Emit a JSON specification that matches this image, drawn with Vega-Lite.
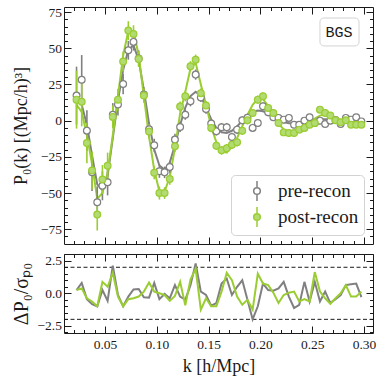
{
  "$schema": "https://vega.github.io/schema/vega-lite/v6.json",
  "padding": {"left": 10, "top": 4, "right": 7, "bottom": 0},
  "config": {
    "font": "Liberation Serif",
    "view": {"stroke": "#1a1a1a", "strokeWidth": 1},
    "axis": {"domain": false, "grid": false, "tickColor": "#1a1a1a", "tickWidth": 1, "labelFont": "Liberation Serif", "labelFontSize": 13.5, "labelColor": "#1a1a1a", "titleFont": "Liberation Serif", "titleFontWeight": "normal", "titleColor": "#1a1a1a", "labelFlush": false, "labelOverlap": false}
  },
  "resolve": {"legend": {"fill": "independent", "stroke": "independent"}, "scale": {"fill": "independent", "stroke": "independent"}},
  "datasets": {
    "pts": [
      {"k":0.0225,"s":"pre-recon","P":17.3,"e":20,"m":14,"r":0.25},
      {"k":0.0275,"s":"pre-recon","P":28.3,"e":17,"m":11,"r":0.8},
      {"k":0.0325,"s":"pre-recon","P":-6.9,"e":14,"m":-3,"r":-0.45},
      {"k":0.0375,"s":"pre-recon","P":-35.6,"e":13,"m":-24,"r":-0.83},
      {"k":0.0425,"s":"pre-recon","P":-56.4,"e":11,"m":-44,"r":-1.0},
      {"k":0.0475,"s":"pre-recon","P":-45,"e":10,"m":-48,"r":0.25},
      {"k":0.0525,"s":"pre-recon","P":-42.6,"e":9,"m":-38,"r":-0.58},
      {"k":0.0575,"s":"pre-recon","P":4.1,"e":8,"m":-12,"r":2.13},
      {"k":0.0625,"s":"pre-recon","P":11.1,"e":7.5,"m":14,"r":-0.13},
      {"k":0.0675,"s":"pre-recon","P":25.3,"e":7,"m":35,"r":-1.0},
      {"k":0.0725,"s":"pre-recon","P":48.6,"e":6.5,"m":49,"r":-0.25},
      {"k":0.0775,"s":"pre-recon","P":54.4,"e":6,"m":52,"r":0.3},
      {"k":0.0825,"s":"pre-recon","P":43,"e":5.5,"m":42,"r":0.33},
      {"k":0.0875,"s":"pre-recon","P":18,"e":5,"m":21,"r":-0.3},
      {"k":0.0925,"s":"pre-recon","P":-6,"e":5,"m":-2,"r":-0.33},
      {"k":0.0975,"s":"pre-recon","P":-17,"e":4.5,"m":-20,"r":0.8},
      {"k":0.1025,"s":"pre-recon","P":-35,"e":4.5,"m":-31,"r":-0.45},
      {"k":0.1075,"s":"pre-recon","P":-35.7,"e":4,"m":-34,"r":-0.05},
      {"k":0.1125,"s":"pre-recon","P":-32,"e":4,"m":-29,"r":-0.38},
      {"k":0.1175,"s":"pre-recon","P":-13.1,"e":4,"m":-17,"r":0.63},
      {"k":0.1225,"s":"pre-recon","P":-4.4,"e":3.5,"m":-3,"r":-0.25},
      {"k":0.1275,"s":"pre-recon","P":4.1,"e":3.5,"m":9,"r":-0.5},
      {"k":0.1325,"s":"pre-recon","P":13.4,"e":3.5,"m":17,"r":0.63},
      {"k":0.1375,"s":"pre-recon","P":31.8,"e":3.5,"m":20,"r":2.3},
      {"k":0.1425,"s":"pre-recon","P":16,"e":3.2,"m":17,"r":0.13},
      {"k":0.1475,"s":"pre-recon","P":8,"e":3.2,"m":9,"r":-0.13},
      {"k":0.1525,"s":"pre-recon","P":-2,"e":3,"m":1,"r":-0.95},
      {"k":0.1575,"s":"pre-recon","P":-7.3,"e":3,"m":-5,"r":-0.75},
      {"k":0.1625,"s":"pre-recon","P":-4.6,"e":3,"m":-8,"r":0.75},
      {"k":0.1675,"s":"pre-recon","P":-4.6,"e":3,"m":-8.5,"r":1.13},
      {"k":0.1725,"s":"pre-recon","P":-11.3,"e":3,"m":-7,"r":-0.13},
      {"k":0.1775,"s":"pre-recon","P":-6.2,"e":3,"m":-4,"r":0.5},
      {"k":0.1825,"s":"pre-recon","P":0.2,"e":2.8,"m":0,"r":1.0},
      {"k":0.1875,"s":"pre-recon","P":2,"e":2.8,"m":3.5,"r":-0.5},
      {"k":0.1925,"s":"pre-recon","P":-5,"e":2.8,"m":6,"r":-2.0},
      {"k":0.1975,"s":"pre-recon","P":-1.6,"e":2.8,"m":7,"r":-1.0},
      {"k":0.2025,"s":"pre-recon","P":9.9,"e":2.7,"m":6.5,"r":0.75},
      {"k":0.2075,"s":"pre-recon","P":5.8,"e":2.7,"m":5,"r":0.25},
      {"k":0.2125,"s":"pre-recon","P":2.3,"e":2.6,"m":2.5,"r":0.2},
      {"k":0.2175,"s":"pre-recon","P":1.9,"e":2.6,"m":0.5,"r":0.38},
      {"k":0.2225,"s":"pre-recon","P":0.7,"e":2.5,"m":-1,"r":0.88},
      {"k":0.2275,"s":"pre-recon","P":1.9,"e":2.5,"m":-1.8,"r":-0.25},
      {"k":0.2325,"s":"pre-recon","P":-2.8,"e":2.5,"m":-1.8,"r":-1.13},
      {"k":0.2375,"s":"pre-recon","P":-2.8,"e":2.5,"m":-1.2,"r":-0.88},
      {"k":0.2425,"s":"pre-recon","P":0,"e":2.4,"m":-0.5,"r":0.88},
      {"k":0.2475,"s":"pre-recon","P":2.3,"e":2.4,"m":0.3,"r":-0.63},
      {"k":0.2525,"s":"pre-recon","P":-1.6,"e":2.4,"m":0.8,"r":0.88},
      {"k":0.2575,"s":"pre-recon","P":0,"e":2.4,"m":1,"r":-0.63},
      {"k":0.2625,"s":"pre-recon","P":-2.3,"e":2.3,"m":0.9,"r":0.13},
      {"k":0.2675,"s":"pre-recon","P":0,"e":2.3,"m":0.6,"r":-0.75},
      {"k":0.2725,"s":"pre-recon","P":0.5,"e":2.3,"m":0.2,"r":-0.45},
      {"k":0.2775,"s":"pre-recon","P":-2.3,"e":2.3,"m":0,"r":-0.13},
      {"k":0.2825,"s":"pre-recon","P":1.9,"e":2.2,"m":-0.2,"r":0.63},
      {"k":0.2875,"s":"pre-recon","P":0.7,"e":2.2,"m":-0.2,"r":0.7},
      {"k":0.2925,"s":"pre-recon","P":2.3,"e":2.2,"m":-0.1,"r":0.75},
      {"k":0.2975,"s":"pre-recon","P":-0.5,"e":2.2,"m":0,"r":-0.3},
      {"k":0.0225,"s":"post-recon","P":14.5,"e":20,"m":11,"r":0.25},
      {"k":0.0275,"s":"post-recon","P":13.1,"e":17,"m":6,"r":0.38},
      {"k":0.0325,"s":"post-recon","P":-15.4,"e":14,"m":-10,"r":-0.38},
      {"k":0.0375,"s":"post-recon","P":-34.5,"e":13,"m":-30,"r":-0.63},
      {"k":0.0425,"s":"post-recon","P":-64.9,"e":11,"m":-54,"r":-1.0},
      {"k":0.0475,"s":"post-recon","P":-40.7,"e":10,"m":-50,"r":0.88},
      {"k":0.0525,"s":"post-recon","P":-31.1,"e":9,"m":-36,"r":0.5},
      {"k":0.0575,"s":"post-recon","P":2.6,"e":8,"m":-10,"r":1.58},
      {"k":0.0625,"s":"post-recon","P":14.5,"e":7.5,"m":17,"r":-0.25},
      {"k":0.0675,"s":"post-recon","P":40.8,"e":7,"m":45,"r":-1.0},
      {"k":0.0725,"s":"post-recon","P":62.2,"e":6.5,"m":62,"r":-0.45},
      {"k":0.0775,"s":"post-recon","P":59.9,"e":6,"m":62,"r":-0.38},
      {"k":0.0825,"s":"post-recon","P":42.6,"e":5.5,"m":45,"r":-0.25},
      {"k":0.0875,"s":"post-recon","P":17.3,"e":5,"m":17,"r":0.13},
      {"k":0.0925,"s":"post-recon","P":-7.5,"e":5,"m":-11,"r":0.83},
      {"k":0.0975,"s":"post-recon","P":-36,"e":4.5,"m":-34,"r":0.13},
      {"k":0.1025,"s":"post-recon","P":-50,"e":4.5,"m":-49,"r":0},
      {"k":0.1075,"s":"post-recon","P":-50,"e":4,"m":-49,"r":-0.13},
      {"k":0.1125,"s":"post-recon","P":-40.3,"e":4,"m":-39,"r":-0.58},
      {"k":0.1175,"s":"post-recon","P":-17.7,"e":4,"m":-19,"r":-0.2},
      {"k":0.1225,"s":"post-recon","P":9.7,"e":3.5,"m":5,"r":0.88},
      {"k":0.1275,"s":"post-recon","P":16.8,"e":3.5,"m":20,"r":-0.93},
      {"k":0.1325,"s":"post-recon","P":37.6,"e":3.5,"m":36,"r":1.05},
      {"k":0.1375,"s":"post-recon","P":42.1,"e":3.5,"m":40,"r":1.88},
      {"k":0.1425,"s":"post-recon","P":19,"e":3.2,"m":25,"r":-1.25},
      {"k":0.1475,"s":"post-recon","P":10.4,"e":3.2,"m":11,"r":-0.38},
      {"k":0.1525,"s":"post-recon","P":-5,"e":3,"m":-4,"r":-1.0},
      {"k":0.1575,"s":"post-recon","P":-17.3,"e":3,"m":-15,"r":-1.0},
      {"k":0.1625,"s":"post-recon","P":-20.5,"e":3,"m":-21,"r":0.13},
      {"k":0.1675,"s":"post-recon","P":-19.1,"e":3,"m":-22,"r":1.58},
      {"k":0.1725,"s":"post-recon","P":-16.6,"e":3,"m":-18,"r":1.0},
      {"k":0.1775,"s":"post-recon","P":-14.9,"e":3,"m":-12,"r":-0.25},
      {"k":0.1825,"s":"post-recon","P":-7,"e":2.8,"m":-4,"r":-0.88},
      {"k":0.1875,"s":"post-recon","P":0.2,"e":2.8,"m":4,"r":-0.5},
      {"k":0.1925,"s":"post-recon","P":5.3,"e":2.8,"m":11,"r":-1.25},
      {"k":0.1975,"s":"post-recon","P":14.5,"e":2.8,"m":15,"r":1.5},
      {"k":0.2025,"s":"post-recon","P":16.8,"e":2.7,"m":15,"r":0.75},
      {"k":0.2075,"s":"post-recon","P":8.8,"e":2.7,"m":10,"r":0.63},
      {"k":0.2125,"s":"post-recon","P":5.3,"e":2.6,"m":4,"r":0.05},
      {"k":0.2175,"s":"post-recon","P":-1.6,"e":2.6,"m":-2,"r":-0.75},
      {"k":0.2225,"s":"post-recon","P":-8.1,"e":2.5,"m":-6,"r":-0.13},
      {"k":0.2275,"s":"post-recon","P":-8.5,"e":2.5,"m":-7.5,"r":0.05},
      {"k":0.2325,"s":"post-recon","P":-8.5,"e":2.5,"m":-7.5,"r":0.13},
      {"k":0.2375,"s":"post-recon","P":-6.2,"e":2.5,"m":-6,"r":-0.63},
      {"k":0.2425,"s":"post-recon","P":-5,"e":2.4,"m":-4,"r":-0.45},
      {"k":0.2475,"s":"post-recon","P":-2.8,"e":2.4,"m":-1.5,"r":-0.63},
      {"k":0.2525,"s":"post-recon","P":-1.6,"e":2.4,"m":1.5,"r":1.63},
      {"k":0.2575,"s":"post-recon","P":7.6,"e":2.4,"m":3.5,"r":0.13},
      {"k":0.2625,"s":"post-recon","P":5.3,"e":2.3,"m":4.5,"r":-0.38},
      {"k":0.2675,"s":"post-recon","P":3.5,"e":2.3,"m":4,"r":-0.8},
      {"k":0.2725,"s":"post-recon","P":0.2,"e":2.3,"m":2,"r":-0.38},
      {"k":0.2775,"s":"post-recon","P":-1.1,"e":2.3,"m":0,"r":0},
      {"k":0.2825,"s":"post-recon","P":0.2,"e":2.2,"m":-1,"r":0.63},
      {"k":0.2875,"s":"post-recon","P":-2.8,"e":2.2,"m":-1.5,"r":-0.25},
      {"k":0.2925,"s":"post-recon","P":-2.8,"e":2.2,"m":-2,"r":-0.25},
      {"k":0.2975,"s":"post-recon","P":-2.8,"e":2.2,"m":-2,"r":0.13}
    ],
    "dash": [{"v": 2}, {"v": -2}],
    "lab": [{"k": 0.2759, "P": 61.5, "t": "BGS", "x0": 0.2575, "x1": 0.2952, "y0": 51.6, "y1": 70.9}]
  },
  "spacing": 1,
  "vconcat": [
    {
      "width": 309,
      "height": 237,
      "resolve": {"axis": {"x": "independent", "y": "independent"}},
      "layer": [
        {
          "data": {"name": "pts"},
          "mark": {"type": "line", "strokeWidth": 2},
          "encoding": {
            "x": {"field": "k", "type": "quantitative", "scale": {"domain": [0.0104, 0.3087], "nice": false, "zero": false},
              "axis": {"orient": "bottom", "values": [0.02,0.03,0.04,0.05,0.06,0.07,0.08,0.09,0.1,0.11,0.12,0.13,0.14,0.15,0.16,0.17,0.18,0.19,0.2,0.21,0.22,0.23,0.24,0.25,0.26,0.27,0.28,0.29,0.3], "labels": false, "title": null,
                "tickSize": {"condition": {"test": "round(datum.value*100)%5==0", "value": -7}, "value": -3.5}}},
            "y": {"field": "m", "type": "quantitative", "scale": {"domain": [-85.2, 78.5], "nice": false, "zero": false},
              "axis": {"orient": "left", "values": [-80,-75,-70,-65,-60,-55,-50,-45,-40,-35,-30,-25,-20,-15,-10,-5,0,5,10,15,20,25,30,35,40,45,50,55,60,65,70,75],
                "labelExpr": "datum.value%25==0 ? format(datum.value,'d') : ''",
                "tickSize": {"condition": {"test": "datum.value%25==0", "value": -7}, "value": -3.5},
                "labelPadding": 9.5,
                "title": "P₀(k) [(Mpc/h)³]", "titleFontSize": 18, "titleX": -43, "titleBaseline": "middle"}},
            "color": {"field": "s", "type": "nominal", "scale": {"domain": ["pre-recon", "post-recon"], "range": ["#808080", "#9acd32"]}, "legend": null}
          }
        },
        {
          "data": {"name": "pts"},
          "mark": {"type": "errorbar", "ticks": false, "thickness": 1.6},
          "encoding": {
            "x": {"field": "k", "type": "quantitative", "axis": null},
            "y": {"field": "P", "type": "quantitative", "axis": null},
            "yError": {"field": "e"},
            "color": {"field": "s", "type": "nominal", "legend": null}
          }
        },
        {
          "data": {"name": "pts"},
          "mark": {"type": "point", "shape": "circle", "filled": true, "size": 46, "strokeWidth": 1.2, "opacity": 1},
          "encoding": {
            "x": {"field": "k", "type": "quantitative", "axis": null},
            "y": {"field": "P", "type": "quantitative", "axis": null},
            "fill": {"field": "s", "type": "nominal", "scale": {"domain": ["pre-recon", "post-recon"], "range": ["#ffffff", "#b3db73"]},
              "legend": {"title": null, "orient": "bottom-right", "offset": 9, "symbolType": "M0,-1L0,-0.33M0,0.33L0,1M-0.33,0A0.33,0.33,0,1,0,0.33,0A0.33,0.33,0,1,0,-0.33,0Z", "symbolSize": 400, "symbolStrokeWidth": 1.5, "symbolOffset": 10, "labelFontSize": 19, "labelFont": "Liberation Serif", "labelColor": "#1a1a1a", "labelExpr": "datum.label + '    '", "fillColor": "#ffffff", "strokeColor": "#d3d3d3", "cornerRadius": 4, "padding": 5, "rowPadding": 0, "labelOffset": 10}},
            "stroke": {"field": "s", "type": "nominal", "scale": {"domain": ["pre-recon", "post-recon"], "range": ["#808080", "#9acd32"]},
              "legend": {"title": null, "orient": "bottom-right", "offset": 9, "symbolType": "M0,-1L0,-0.33M0,0.33L0,1M-0.33,0A0.33,0.33,0,1,0,0.33,0A0.33,0.33,0,1,0,-0.33,0Z", "symbolSize": 400, "symbolStrokeWidth": 1.5, "symbolOffset": 10, "labelFontSize": 19, "labelFont": "Liberation Serif", "labelColor": "#1a1a1a", "labelExpr": "datum.label + '    '", "fillColor": "#ffffff", "strokeColor": "#d3d3d3", "cornerRadius": 4, "padding": 5, "rowPadding": 0, "labelOffset": 10}}
          }
        },
        {
          "data": {"name": "lab"},
          "mark": {"type": "rect", "cornerRadius": 4, "fill": "#ffffff", "stroke": "#d3d3d3", "strokeWidth": 1},
          "encoding": {
            "x": {"field": "x0", "type": "quantitative", "axis": null},
            "x2": {"field": "x1"},
            "y": {"field": "y0", "type": "quantitative", "axis": null},
            "y2": {"field": "y1"}
          }
        },
        {
          "data": {"name": "lab"},
          "mark": {"type": "text", "font": "Liberation Mono", "fontSize": 15, "color": "#1a1a1a", "align": "center", "baseline": "middle"},
          "encoding": {
            "x": {"field": "k", "type": "quantitative",
              "axis": {"orient": "top", "values": [0.02,0.03,0.04,0.05,0.06,0.07,0.08,0.09,0.1,0.11,0.12,0.13,0.14,0.15,0.16,0.17,0.18,0.19,0.2,0.21,0.22,0.23,0.24,0.25,0.26,0.27,0.28,0.29,0.3], "labels": false, "title": null,
                "tickSize": {"condition": {"test": "round(datum.value*100)%5==0", "value": -7}, "value": -3.5}}},
            "y": {"field": "P", "type": "quantitative",
              "axis": {"orient": "right", "values": [-80,-75,-70,-65,-60,-55,-50,-45,-40,-35,-30,-25,-20,-15,-10,-5,0,5,10,15,20,25,30,35,40,45,50,55,60,65,70,75], "labels": false, "title": null,
                "tickSize": {"condition": {"test": "datum.value%25==0", "value": -7}, "value": -3.5}}},
            "text": {"field": "t"}
          }
        }
      ]
    },
    {
      "width": 309,
      "height": 79,
      "resolve": {"axis": {"x": "independent", "y": "independent"}},
      "layer": [
        {
          "data": {"name": "dash"},
          "mark": {"type": "rule", "color": "#1a1a1a", "strokeWidth": 1, "strokeDash": [4, 2.5]},
          "encoding": {
            "x": {"datum": 0.0104, "type": "quantitative",
              "axis": {"orient": "top", "values": [0.02,0.03,0.04,0.05,0.06,0.07,0.08,0.09,0.1,0.11,0.12,0.13,0.14,0.15,0.16,0.17,0.18,0.19,0.2,0.21,0.22,0.23,0.24,0.25,0.26,0.27,0.28,0.29,0.3], "labels": false, "title": null,
                "tickSize": {"condition": {"test": "round(datum.value*100)%5==0", "value": -7}, "value": -3.5}}},
            "x2": {"datum": 0.3087},
            "y": {"field": "v", "type": "quantitative",
              "axis": {"orient": "right", "values": [-3,-2.5,-2,-1.5,-1,-0.5,0,0.5,1,1.5,2,2.5,3], "labels": false, "title": null,
                "tickSize": {"condition": {"test": "abs(datum.value*2)%5==0", "value": -7}, "value": -3.5}}}
          }
        },
        {
          "data": {"name": "pts"},
          "mark": {"type": "line", "strokeWidth": 2},
          "encoding": {
            "x": {"field": "k", "type": "quantitative", "scale": {"domain": [0.0104, 0.3087], "nice": false, "zero": false},
              "axis": {"orient": "bottom", "values": [0.02,0.03,0.04,0.05,0.06,0.07,0.08,0.09,0.1,0.11,0.12,0.13,0.14,0.15,0.16,0.17,0.18,0.19,0.2,0.21,0.22,0.23,0.24,0.25,0.26,0.27,0.28,0.29,0.3],
                "labelExpr": "round(datum.value*100)%5==0 ? format(datum.value,'.2f') : ''",
                "tickSize": {"condition": {"test": "round(datum.value*100)%5==0", "value": -7}, "value": -3.5},
                "labelPadding": 11,
                "title": "k [h/Mpc]", "titleFontSize": 18, "titlePadding": 3}},
            "y": {"field": "r", "type": "quantitative", "scale": {"domain": [-3.05, 3.02], "nice": false, "zero": false},
              "axis": {"orient": "left", "values": [-3,-2.5,-2,-1.5,-1,-0.5,0,0.5,1,1.5,2,2.5,3],
                "labelExpr": "abs(datum.value*2)%5==0 ? format(datum.value,'.1f') : ''",
                "tickSize": {"condition": {"test": "abs(datum.value*2)%5==0", "value": -7}, "value": -3.5},
                "labelPadding": 9.5,
                "title": "ΔP₀/σₚ₀", "titleFontSize": 20, "titleX": -43, "titleBaseline": "middle"}},
            "color": {"field": "s", "type": "nominal", "scale": {"domain": ["pre-recon", "post-recon"], "range": ["#808080", "#9acd32"]}, "legend": null}
          }
        }
      ]
    }
  ]
}
